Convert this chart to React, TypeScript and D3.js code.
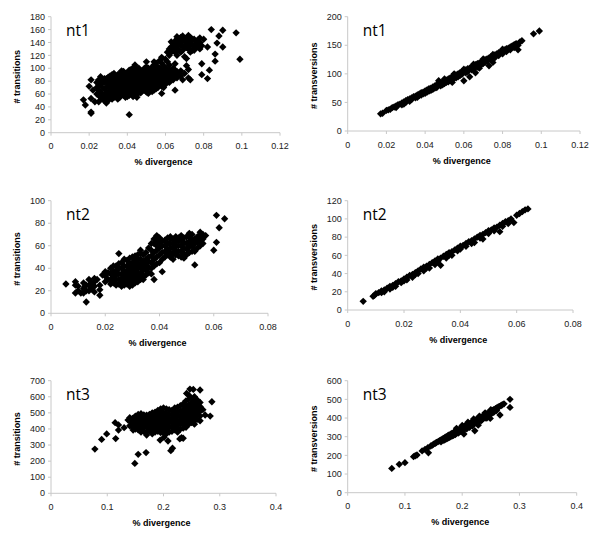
import React from "react";
import * as d3 from "d3";

type Pt = [number, number];

// values, [% divergence, count]
const nt1Transitions: Pt[] = [
  [0.017, 51], [0.018, 43], [0.021, 32], [0.021, 30], [0.041, 28], [0.099, 114], [0.097, 155], [0.09, 159],
  [0.084, 160], [0.082, 84], [0.083, 97], [0.079, 90], [0.079, 107], [0.086, 111], [0.086, 122], [0.09, 133],
  [0.087, 139], [0.088, 150], [0.078, 147], [0.072, 151], [0.066, 149], [0.063, 141], [0.063, 133], [0.068, 135],
  [0.071, 141], [0.074, 137], [0.076, 142], [0.08, 145], [0.082, 133], [0.073, 125], [0.071, 115], [0.071, 104],
  [0.072, 98], [0.073, 82], [0.069, 82], [0.065, 66], [0.058, 61], [0.051, 61], [0.06, 114], [0.058, 117],
  [0.054, 110], [0.05, 110], [0.044, 105], [0.047, 94], [0.052, 97], [0.056, 100], [0.065, 107], [0.065, 97],
  [0.068, 96], [0.028, 84], [0.026, 87], [0.021, 82], [0.02, 72], [0.022, 66], [0.021, 53], [0.023, 48],
  [0.025, 48], [0.029, 46], [0.03, 50], [0.031, 61], [0.027, 55], [0.039, 55], [0.042, 61], [0.045, 55],
  [0.047, 67], [0.04, 65],
  [0.024, 70], [0.024, 78], [0.024, 60], [0.026, 62], [0.026, 75], [0.026, 55],
  [0.028, 58], [0.028, 68], [0.028, 78], [0.028, 50], [0.03, 55], [0.03, 63], [0.03, 72], [0.03, 80], [0.03, 86],
  [0.032, 52], [0.032, 60], [0.032, 68], [0.032, 76], [0.032, 84], [0.032, 90],
  [0.034, 58], [0.034, 65], [0.034, 72], [0.034, 80], [0.034, 88],
  [0.036, 55], [0.036, 62], [0.036, 70], [0.036, 77], [0.036, 85], [0.036, 92],
  [0.038, 58], [0.038, 66], [0.038, 74], [0.038, 82], [0.038, 90], [0.038, 95],
  [0.04, 56], [0.04, 63], [0.04, 70], [0.04, 78], [0.04, 86], [0.04, 93],
  [0.042, 60], [0.042, 68], [0.042, 75], [0.042, 83], [0.042, 90], [0.042, 98],
  [0.044, 58], [0.044, 65], [0.044, 73], [0.044, 80], [0.044, 88], [0.044, 95],
  [0.046, 62], [0.046, 70], [0.046, 78], [0.046, 85], [0.046, 92], [0.046, 100],
  [0.048, 65], [0.048, 72], [0.048, 80], [0.048, 88], [0.048, 96],
  [0.05, 63], [0.05, 70], [0.05, 78], [0.05, 86], [0.05, 94], [0.05, 102],
  [0.052, 68], [0.052, 75], [0.052, 83], [0.052, 90], [0.052, 98],
  [0.054, 66], [0.054, 74], [0.054, 82], [0.054, 90], [0.054, 96], [0.054, 105],
  [0.056, 70], [0.056, 78], [0.056, 86], [0.056, 94], [0.056, 102],
  [0.058, 72], [0.058, 80], [0.058, 88], [0.058, 96], [0.058, 108],
  [0.06, 75], [0.06, 84], [0.06, 92], [0.06, 100],
  [0.062, 78], [0.062, 88], [0.062, 95], [0.062, 105], [0.062, 120], [0.062, 130],
  [0.064, 82], [0.064, 92], [0.064, 100], [0.064, 128], [0.064, 138],
  [0.066, 85], [0.066, 95], [0.066, 120], [0.066, 130], [0.066, 145],
  [0.068, 88], [0.068, 125], [0.068, 140], [0.068, 148],
  [0.07, 92], [0.07, 118], [0.07, 135], [0.07, 145],
  [0.072, 85], [0.072, 130], [0.072, 140], [0.074, 128], [0.074, 145],
  [0.076, 132], [0.076, 138], [0.078, 130], [0.078, 140],
  [0.025, 58], [0.025, 66], [0.025, 74], [0.025, 82], [0.027, 52], [0.027, 60], [0.027, 70], [0.027, 80],
  [0.029, 54], [0.029, 62], [0.029, 70], [0.029, 78], [0.029, 84],
  [0.031, 56], [0.031, 64], [0.031, 72], [0.031, 80], [0.031, 88],
  [0.033, 55], [0.033, 62], [0.033, 70], [0.033, 78], [0.033, 86], [0.033, 92],
  [0.035, 52], [0.035, 60], [0.035, 68], [0.035, 76], [0.035, 84], [0.035, 90],
  [0.037, 58], [0.037, 66], [0.037, 74], [0.037, 81], [0.037, 88], [0.037, 96],
  [0.039, 60], [0.039, 68], [0.039, 76], [0.039, 84], [0.039, 92],
  [0.041, 58], [0.041, 66], [0.041, 74], [0.041, 82], [0.041, 90], [0.041, 97],
  [0.043, 56], [0.043, 64], [0.043, 72], [0.043, 80], [0.043, 86], [0.043, 94], [0.043, 100],
  [0.045, 60], [0.045, 68], [0.045, 76], [0.045, 84], [0.045, 92], [0.045, 98],
  [0.047, 62], [0.047, 74], [0.047, 82], [0.047, 88], [0.047, 96],
  [0.049, 66], [0.049, 74], [0.049, 84], [0.049, 92], [0.049, 100],
  [0.051, 66], [0.051, 74], [0.051, 82], [0.051, 92], [0.051, 100],
  [0.053, 64], [0.053, 72], [0.053, 80], [0.053, 86], [0.053, 94], [0.053, 102],
  [0.055, 68], [0.055, 76], [0.055, 84], [0.055, 92], [0.055, 100], [0.055, 108],
  [0.057, 74], [0.057, 82], [0.057, 90], [0.057, 100], [0.057, 112],
  [0.059, 70], [0.059, 78], [0.059, 88], [0.059, 96], [0.059, 104],
  [0.061, 80], [0.061, 90], [0.061, 98], [0.061, 110], [0.061, 125],
  [0.063, 85], [0.063, 97], [0.063, 125], [0.065, 88], [0.065, 135], [0.065, 142], [0.065, 125],
  [0.067, 92], [0.067, 128], [0.067, 138], [0.067, 146], [0.069, 128], [0.069, 142], [0.069, 150],
  [0.071, 132], [0.071, 146], [0.073, 135], [0.073, 142], [0.073, 148], [0.075, 128], [0.075, 135], [0.075, 145],
  [0.077, 136], [0.077, 144], [0.079, 135],
];

const nt1Transversions: Pt[] = [
  [0.017, 30], [0.018, 31], [0.02, 36], [0.021, 37], [0.022, 38], [0.023, 41], [0.024, 42], [0.025, 44],
  [0.026, 46], [0.027, 47], [0.028, 49], [0.028, 46], [0.029, 51], [0.03, 53], [0.03, 50], [0.031, 55],
  [0.032, 56], [0.033, 58], [0.033, 55], [0.034, 60], [0.035, 61], [0.035, 58], [0.036, 63], [0.037, 65],
  [0.037, 62], [0.038, 67], [0.039, 68], [0.039, 65], [0.04, 70], [0.04, 66], [0.041, 72], [0.042, 74],
  [0.042, 70], [0.043, 75], [0.044, 77], [0.044, 73], [0.045, 79], [0.046, 81], [0.046, 76], [0.047, 88],
  [0.047, 82], [0.048, 84], [0.048, 79], [0.049, 86], [0.05, 88], [0.05, 83], [0.051, 89], [0.052, 91],
  [0.052, 86], [0.053, 93], [0.054, 95], [0.054, 85], [0.055, 97], [0.055, 92], [0.056, 98], [0.057, 100],
  [0.057, 95], [0.058, 102], [0.059, 104], [0.059, 99], [0.06, 105], [0.06, 88], [0.061, 107], [0.061, 102],
  [0.062, 109], [0.063, 110], [0.063, 95], [0.064, 112], [0.065, 114], [0.065, 108], [0.066, 116], [0.066, 102],
  [0.067, 118], [0.068, 119], [0.068, 110], [0.069, 121], [0.07, 123], [0.07, 118], [0.071, 125], [0.072, 126],
  [0.073, 128], [0.073, 114], [0.074, 130], [0.075, 131], [0.075, 120], [0.076, 133], [0.077, 135], [0.078, 137],
  [0.079, 138], [0.08, 140], [0.081, 142], [0.082, 144], [0.083, 145], [0.084, 147], [0.085, 149], [0.086, 151],
  [0.087, 153], [0.088, 142], [0.088, 150], [0.089, 156], [0.09, 158], [0.096, 170], [0.099, 175],
  [0.025, 41], [0.029, 47], [0.032, 52], [0.036, 59], [0.038, 63], [0.041, 68], [0.043, 71], [0.045, 75],
  [0.049, 81], [0.051, 85], [0.053, 89], [0.056, 93], [0.058, 97], [0.062, 104], [0.064, 107], [0.067, 112],
  [0.069, 116], [0.071, 120], [0.072, 122], [0.074, 125], [0.076, 128], [0.078, 132], [0.08, 135], [0.082, 139],
  [0.084, 142], [0.086, 146], [0.05, 91], [0.055, 100], [0.06, 108], [0.065, 117], [0.07, 126], [0.075, 134],
  [0.08, 143],
];

const nt2Transitions: Pt[] = [
  [0.0055, 26], [0.009, 28], [0.009, 25], [0.009, 18], [0.011, 18], [0.013, 10], [0.0125, 24], [0.014, 30],
  [0.016, 31], [0.017, 30], [0.018, 16], [0.018, 21], [0.018, 25], [0.019, 34], [0.025, 53], [0.022, 35],
  [0.034, 30], [0.038, 30], [0.037, 35], [0.041, 37], [0.033, 56], [0.061, 87], [0.064, 84], [0.062, 76],
  [0.061, 63], [0.06, 56], [0.055, 72], [0.057, 69], [0.053, 43], [0.049, 49], [0.052, 61], [0.053, 55],
  [0.039, 69], [0.044, 68], [0.048, 69], [0.051, 71],
  [0.01, 20], [0.01, 24], [0.012, 18], [0.012, 22], [0.012, 27], [0.014, 20], [0.014, 25],
  [0.016, 24], [0.016, 28], [0.016, 19], [0.02, 28], [0.02, 33], [0.02, 37], [0.022, 26], [0.022, 30], [0.022, 40],
  [0.024, 25], [0.024, 30], [0.024, 34], [0.024, 38], [0.024, 42],
  [0.026, 24], [0.026, 27], [0.026, 31], [0.026, 35], [0.026, 40], [0.026, 45],
  [0.028, 26], [0.028, 30], [0.028, 34], [0.028, 38], [0.028, 42], [0.028, 47],
  [0.03, 25], [0.03, 29], [0.03, 33], [0.03, 37], [0.03, 41], [0.03, 45], [0.03, 50],
  [0.032, 28], [0.032, 32], [0.032, 36], [0.032, 40], [0.032, 44], [0.032, 48], [0.032, 52],
  [0.034, 33], [0.034, 38], [0.034, 42], [0.034, 46], [0.034, 52],
  [0.036, 36], [0.036, 41], [0.036, 46], [0.036, 50], [0.036, 58],
  [0.038, 42], [0.038, 48], [0.038, 54], [0.038, 62], [0.038, 66],
  [0.04, 45], [0.04, 52], [0.04, 58], [0.04, 63], [0.04, 67],
  [0.042, 50], [0.042, 55], [0.042, 60], [0.042, 65],
  [0.044, 50], [0.044, 54], [0.044, 58], [0.044, 62], [0.044, 66],
  [0.046, 52], [0.046, 56], [0.046, 60], [0.046, 64], [0.046, 68],
  [0.048, 50], [0.048, 55], [0.048, 60], [0.048, 65], [0.05, 52], [0.05, 57], [0.05, 62], [0.05, 68],
  [0.052, 55], [0.052, 60], [0.052, 65], [0.052, 70], [0.054, 58], [0.054, 63], [0.054, 68],
  [0.056, 62], [0.056, 66], [0.056, 70],
  [0.013, 20], [0.013, 25], [0.015, 22], [0.015, 27], [0.021, 30], [0.021, 36],
  [0.023, 27], [0.023, 32], [0.023, 37], [0.023, 42], [0.025, 26], [0.025, 30], [0.025, 35], [0.025, 40], [0.025, 44],
  [0.027, 25], [0.027, 29], [0.027, 33], [0.027, 37], [0.027, 42], [0.027, 48],
  [0.029, 24], [0.029, 28], [0.029, 32], [0.029, 36], [0.029, 40], [0.029, 44], [0.029, 49],
  [0.031, 27], [0.031, 31], [0.031, 35], [0.031, 39], [0.031, 43], [0.031, 47], [0.031, 51],
  [0.033, 30], [0.033, 35], [0.033, 40], [0.033, 44], [0.033, 48], [0.033, 53],
  [0.035, 34], [0.035, 39], [0.035, 44], [0.035, 48], [0.035, 54],
  [0.037, 40], [0.037, 45], [0.037, 51], [0.037, 56], [0.037, 62],
  [0.039, 44], [0.039, 50], [0.039, 56], [0.039, 60], [0.039, 65],
  [0.041, 48], [0.041, 54], [0.041, 60], [0.041, 64], [0.043, 52], [0.043, 57], [0.043, 62], [0.043, 67],
  [0.045, 48], [0.045, 53], [0.045, 58], [0.045, 62], [0.045, 66],
  [0.047, 51], [0.047, 55], [0.047, 60], [0.047, 64], [0.047, 67],
  [0.049, 53], [0.049, 58], [0.049, 63], [0.049, 67], [0.051, 54], [0.051, 59], [0.051, 64], [0.051, 68],
  [0.053, 57], [0.053, 62], [0.053, 66], [0.055, 60], [0.055, 65], [0.055, 69],
];

const nt2Transversions: Pt[] = [
  [0.0055, 9.5], [0.009, 15], [0.0095, 16], [0.01, 18], [0.011, 19], [0.012, 21], [0.013, 22], [0.013, 20],
  [0.014, 24], [0.015, 26], [0.015, 23], [0.016, 27], [0.017, 29], [0.017, 26], [0.018, 31], [0.019, 32],
  [0.019, 30], [0.02, 34], [0.021, 36], [0.021, 33], [0.022, 38], [0.023, 39], [0.023, 36], [0.024, 41],
  [0.025, 43], [0.025, 40], [0.026, 45], [0.027, 47], [0.027, 43], [0.028, 48], [0.029, 50], [0.029, 46],
  [0.03, 52], [0.031, 54], [0.031, 50], [0.032, 56], [0.033, 57], [0.033, 49], [0.034, 59], [0.035, 61],
  [0.035, 57], [0.036, 63], [0.037, 64], [0.037, 60], [0.038, 66], [0.039, 68], [0.04, 70], [0.04, 67],
  [0.041, 71], [0.042, 73], [0.043, 75], [0.044, 76], [0.045, 78], [0.045, 74], [0.046, 80], [0.047, 82],
  [0.048, 83], [0.048, 78], [0.049, 85], [0.05, 87], [0.051, 88], [0.052, 90], [0.053, 91], [0.054, 93],
  [0.054, 86], [0.055, 95], [0.056, 97], [0.057, 98], [0.058, 100], [0.059, 96], [0.06, 104], [0.061, 106],
  [0.062, 108], [0.063, 110], [0.064, 111],
  [0.012, 19], [0.016, 25], [0.02, 32], [0.024, 39], [0.028, 46], [0.032, 53], [0.036, 60], [0.039, 65],
  [0.042, 70], [0.044, 73], [0.047, 79], [0.05, 84], [0.052, 87], [0.055, 92], [0.057, 95],
];

const nt3Transitions: Pt[] = [
  [0.078, 275], [0.09, 335], [0.099, 369], [0.115, 340], [0.114, 439], [0.12, 425], [0.12, 393], [0.13, 408],
  [0.149, 186], [0.155, 242], [0.169, 253], [0.194, 331], [0.201, 348], [0.208, 325], [0.213, 265], [0.216, 280],
  [0.229, 338], [0.232, 346], [0.235, 342], [0.241, 621], [0.247, 648], [0.253, 646], [0.265, 642], [0.286, 569],
  [0.283, 480], [0.265, 451], [0.274, 487], [0.137, 455], [0.146, 393], [0.17, 362], [0.16, 380], [0.18, 370],
  [0.225, 380], [0.24, 410], [0.255, 430], [0.27, 520],
  [0.14, 420], [0.14, 450], [0.14, 470], [0.15, 400], [0.15, 430], [0.15, 455], [0.15, 480],
  [0.16, 390], [0.16, 420], [0.16, 445], [0.16, 470], [0.16, 495],
  [0.17, 380], [0.17, 410], [0.17, 435], [0.17, 460], [0.17, 485],
  [0.18, 395], [0.18, 420], [0.18, 445], [0.18, 470], [0.18, 500],
  [0.19, 385], [0.19, 410], [0.19, 435], [0.19, 460], [0.19, 485], [0.19, 515],
  [0.2, 375], [0.2, 400], [0.2, 425], [0.2, 450], [0.2, 475], [0.2, 500], [0.2, 530],
  [0.21, 380], [0.21, 410], [0.21, 440], [0.21, 465], [0.21, 490], [0.21, 520],
  [0.22, 395], [0.22, 420], [0.22, 445], [0.22, 470], [0.22, 500], [0.22, 530],
  [0.23, 400], [0.23, 430], [0.23, 455], [0.23, 480], [0.23, 510], [0.23, 545],
  [0.24, 420], [0.24, 450], [0.24, 480], [0.24, 510], [0.24, 540], [0.24, 575],
  [0.25, 440], [0.25, 470], [0.25, 500], [0.25, 530], [0.25, 560], [0.25, 590],
  [0.26, 460], [0.26, 490], [0.26, 520], [0.26, 550], [0.26, 580],
  [0.145, 410], [0.145, 440], [0.145, 465], [0.155, 395], [0.155, 418], [0.155, 442], [0.155, 468], [0.155, 490],
  [0.165, 385], [0.165, 412], [0.165, 438], [0.165, 462], [0.165, 488],
  [0.175, 390], [0.175, 415], [0.175, 440], [0.175, 465], [0.175, 490],
  [0.185, 380], [0.185, 405], [0.185, 430], [0.185, 455], [0.185, 480], [0.185, 505],
  [0.195, 378], [0.195, 402], [0.195, 428], [0.195, 452], [0.195, 478], [0.195, 505], [0.195, 525],
  [0.205, 370], [0.205, 395], [0.205, 420], [0.205, 448], [0.205, 472], [0.205, 498], [0.205, 525],
  [0.215, 385], [0.215, 412], [0.215, 438], [0.215, 462], [0.215, 490], [0.215, 515],
  [0.225, 400], [0.225, 425], [0.225, 450], [0.225, 478], [0.225, 505], [0.225, 535],
  [0.235, 405], [0.235, 435], [0.235, 462], [0.235, 490], [0.235, 520], [0.235, 555],
  [0.245, 430], [0.245, 460], [0.245, 490], [0.245, 520], [0.245, 550], [0.245, 585], [0.245, 610],
  [0.255, 450], [0.255, 480], [0.255, 510], [0.255, 540], [0.255, 570], [0.255, 600],
  [0.265, 480], [0.265, 510], [0.265, 540], [0.265, 565],
];

const nt3Transversions: Pt[] = [
  [0.077, 130], [0.09, 152], [0.1, 161], [0.115, 193], [0.118, 198], [0.121, 202], [0.13, 224], [0.135, 232],
  [0.141, 214], [0.14, 241], [0.145, 250], [0.148, 255], [0.15, 260], [0.153, 265], [0.155, 269], [0.158, 274],
  [0.16, 278], [0.162, 282], [0.163, 272], [0.165, 287], [0.167, 291], [0.168, 281], [0.17, 296], [0.172, 300],
  [0.173, 289], [0.175, 305], [0.177, 309], [0.178, 297], [0.18, 314], [0.182, 318], [0.183, 305], [0.185, 323],
  [0.187, 327], [0.188, 312], [0.19, 332], [0.192, 336], [0.193, 320], [0.195, 340], [0.197, 344], [0.198, 328],
  [0.2, 349], [0.202, 353], [0.203, 314], [0.205, 358], [0.207, 362], [0.208, 342], [0.21, 366], [0.212, 370],
  [0.213, 350], [0.215, 374], [0.217, 378], [0.218, 358], [0.22, 383], [0.222, 332], [0.223, 388], [0.225, 392],
  [0.227, 396], [0.228, 362], [0.23, 400], [0.232, 404], [0.233, 385], [0.235, 408], [0.238, 414], [0.24, 418],
  [0.242, 422], [0.243, 400], [0.245, 426], [0.248, 432], [0.249, 398], [0.25, 436], [0.253, 441], [0.255, 445],
  [0.258, 450], [0.26, 454], [0.263, 459], [0.266, 416], [0.265, 462], [0.268, 467], [0.27, 471], [0.273, 476],
  [0.2835, 500], [0.2835, 457],
  [0.17, 285], [0.175, 292], [0.18, 300], [0.185, 308], [0.19, 318], [0.195, 325], [0.2, 334], [0.205, 342],
  [0.21, 352], [0.215, 360], [0.22, 368], [0.225, 376], [0.23, 385], [0.235, 392], [0.24, 400], [0.245, 410],
  [0.25, 420], [0.255, 430], [0.26, 440], [0.19, 345], [0.2, 360], [0.21, 378], [0.22, 395], [0.23, 410],
  [0.24, 428], [0.25, 445],
];

const xTicksNt1 = [0, 0.02, 0.04, 0.06, 0.08, 0.1, 0.12];
const xTicksNt2 = [0, 0.02, 0.04, 0.06, 0.08];
const xTicksNt3 = [0, 0.1, 0.2, 0.3, 0.4];
const yTicksNt1Ts = [0, 20, 40, 60, 80, 100, 120, 140, 160, 180];
const yTicksNt1Tv = [0, 50, 100, 150, 200];
const yTicksNt2Ts = [0, 20, 40, 60, 80, 100];
const yTicksNt2Tv = [0, 20, 40, 60, 80, 100, 120];
const yTicksNt3Ts = [0, 100, 200, 300, 400, 500, 600, 700];
const yTicksNt3Tv = [0, 100, 200, 300, 400, 500, 600];

const panels = [
  { name: "nt1", yTitle: "# transitions", data: nt1Transitions, xTicks: xTicksNt1, yTicks: yTicksNt1Ts, frame: [51, 280, 16.7, 132.7] },
  { name: "nt1", yTitle: "# transversions", data: nt1Transversions, xTicks: xTicksNt1, yTicks: yTicksNt1Tv, frame: [347.7, 580, 16.7, 131] },
  { name: "nt2", yTitle: "# transitions", data: nt2Transitions, xTicks: xTicksNt2, yTicks: yTicksNt2Ts, frame: [51, 268, 200.7, 313.3] },
  { name: "nt2", yTitle: "# transversions", data: nt2Transversions, xTicks: xTicksNt2, yTicks: yTicksNt2Tv, frame: [347.7, 573, 200.7, 310] },
  { name: "nt3", yTitle: "# transitions", data: nt3Transitions, xTicks: xTicksNt3, yTicks: yTicksNt3Ts, frame: [51, 276, 380.7, 493.3] },
  { name: "nt3", yTitle: "# transversions", data: nt3Transversions, xTicks: xTicksNt3, yTicks: yTicksNt3Tv, frame: [347.7, 576.7, 380.7, 492.7] },
];

const axisColor = "#c8c8c8";
const tickFont = "'Liberation Sans', Arial, sans-serif";
const diamond = d3.symbol().type(d3.symbolSquare).size(27)() as string;

function Panel({ p }: { p: (typeof panels)[number] }) {
  const [l, r, t, b] = p.frame;
  const x = d3.scaleLinear().domain([p.xTicks[0], p.xTicks[p.xTicks.length - 1]]).range([l, r]);
  const y = d3.scaleLinear().domain([p.yTicks[0], p.yTicks[p.yTicks.length - 1]]).range([b, t]);
  return (
    <g>
      <line x1={l} x2={r} y1={b} y2={b} stroke={axisColor} />
      <line x1={l} x2={l} y1={t} y2={b} stroke={axisColor} />
      {p.xTicks.map((v) => (
        <g key={"x" + v}>
          <line x1={x(v)} x2={x(v)} y1={b} y2={b + 3} stroke={axisColor} />
          <text x={x(v)} y={b + 16.5} textAnchor="middle" fontSize={9} fontFamily={tickFont} fill="#222">
            {String(v)}
          </text>
        </g>
      ))}
      {p.yTicks.map((v) => (
        <g key={"y" + v}>
          <line x1={l - 3} x2={l} y1={y(v)} y2={y(v)} stroke={axisColor} />
          <text x={l - 6} y={y(v)} dy="0.35em" textAnchor="end" fontSize={9} fontFamily={tickFont} fill="#222">
            {v}
          </text>
        </g>
      ))}
      <text x={(l + r) / 2 - 2} y={b + 32.5} textAnchor="middle" fontSize={9} fontWeight="bold" fontFamily={tickFont}>
        % divergence
      </text>
      <text
        transform={`translate(${l - 31},${(t + b) / 2 + 2}) rotate(-90)`}
        textAnchor="middle"
        fontSize={9}
        fontWeight="bold"
        fontFamily={tickFont}
      >
        {p.yTitle}
      </text>
      <text x={l + 15} y={t + 19} fontSize={15.5} fontFamily="'Open Sans', sans-serif">
        {p.name}
      </text>
      {p.data.map((d, i) => (
        <path key={i} d={diamond} transform={`translate(${x(d[0])},${y(d[1])}) rotate(45)`} fill="#000" />
      ))}
    </g>
  );
}

export default function App() {
  return (
    <svg width={600} height={545} style={{ position: "absolute", left: 0, top: 0, background: "#fff" }}>
      {panels.map((p, i) => (
        <Panel key={i} p={p} />
      ))}
    </svg>
  );
}
